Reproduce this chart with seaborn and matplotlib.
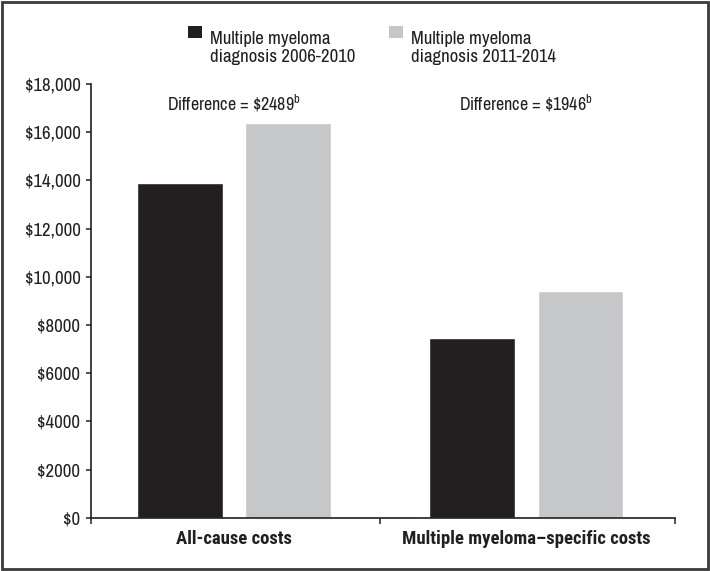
import matplotlib
matplotlib.use('Agg')
import matplotlib.pyplot as plt
import seaborn as sns
import pandas as pd
from matplotlib.patches import Rectangle
from matplotlib.legend_handler import HandlerPatch
from matplotlib.ticker import FixedLocator

# data
categories = ['All-cause costs', 'Multiple myeloma\u2013specific costs']
cohorts = ['Multiple myeloma\ndiagnosis 2006-2010', 'Multiple myeloma\ndiagnosis 2011-2014']
costs_2006_2010 = [13891, 7450]
costs_2011_2014 = [16380, 9396]
differences = ['2489', '1946']
yticks = [0, 2000, 4000, 6000, 8000, 10000, 12000, 14000, 16000, 18000]
ytick_labels = ['$0', '$2000', '$4000', '$6000', '$8000',
                '$10,000', '$12,000', '$14,000', '$16,000', '$18,000']

df = pd.DataFrame({
    'category': categories * 2,
    'cohort': [cohorts[0]] * 2 + [cohorts[1]] * 2,
    'cost': costs_2006_2010 + costs_2011_2014,
})

ink = '#231f20'
grey = '#c6c7c9'
sns.set_style('white')
plt.rcParams['font.family'] = ['Archivo Narrow', 'DejaVu Sans']
plt.rcParams['mathtext.fontset'] = 'custom'
plt.rcParams['mathtext.rm'] = 'Archivo Narrow'
plt.rcParams['text.color'] = ink
plt.rcParams['axes.edgecolor'] = ink
plt.rcParams['xtick.color'] = ink
plt.rcParams['ytick.color'] = ink
bold_family = ['Roboto Condensed', 'Asap Condensed', 'DejaVu Sans']

fig = plt.figure(figsize=(7.1, 5.71), dpi=100)
ax = fig.add_axes([0.128, 0.093, 0.823, 0.760])

sns.barplot(data=df, x='category', y='cost', hue='cohort', order=categories,
            hue_order=cohorts, palette=[ink, grey], saturation=1,
            width=0.74, gap=0.21, ax=ax)

ax.set_xlim(-0.49, 1.51)
ax.set_ylim(0, 18000)
ax.set_xlabel('')
ax.set_ylabel('')
sns.despine(ax=ax)
for s in ['left', 'bottom']:
    ax.spines[s].set_linewidth(1.2)

ax.set_yticks(yticks)
ax.set_yticklabels(ytick_labels, fontsize=13.5)
ax.tick_params(axis='y', direction='out', length=3.5, width=1.1, pad=4, left=True)

# boundary ticks below x axis, labels at category centres
ax.xaxis.set_major_locator(FixedLocator([-0.49, 0.5, 1.51]))
ax.xaxis.set_minor_locator(FixedLocator([0, 1]))
ax.set_xticklabels(['', '', ''])
ax.set_xticklabels(categories, minor=True, fontsize=13.5, fontweight='bold',
                   family=bold_family)
ax.tick_params(axis='x', which='major', direction='out', length=4, width=1.1, bottom=True)
ax.tick_params(axis='x', which='minor', length=0, pad=9)

for i, d in enumerate(differences):
    ax.text(i, 17200, r'Difference = \$' + d + r'$^{\mathrm{b}}$',
            ha='center', va='center', fontsize=13)

ax.legend_.remove()


def square(legend, orig_handle, xdescent, ydescent, width, height, fontsize):
    return Rectangle((-xdescent, -ydescent + 0.85 * fontsize), width, height)


handles = [Rectangle((0, 0), 1, 1, fc=c, ec='none') for c in [ink, grey]]
fig.legend(handles, cohorts, loc='upper left', bbox_to_anchor=(0.251, 0.963),
           ncol=2, frameon=False, fontsize=13.5, borderpad=0, handlelength=0.78,
           handleheight=0.62, handletextpad=0.4, columnspacing=1.8,
           labelspacing=0.2,
           handler_map={Rectangle: HandlerPatch(patch_func=square)})

fig.add_artist(Rectangle((0.003, 0.004), 0.994, 0.993, transform=fig.transFigure,
                         fill=False, lw=2, ec='#3a3a3a'))

fig.savefig('out.png', dpi=100)
